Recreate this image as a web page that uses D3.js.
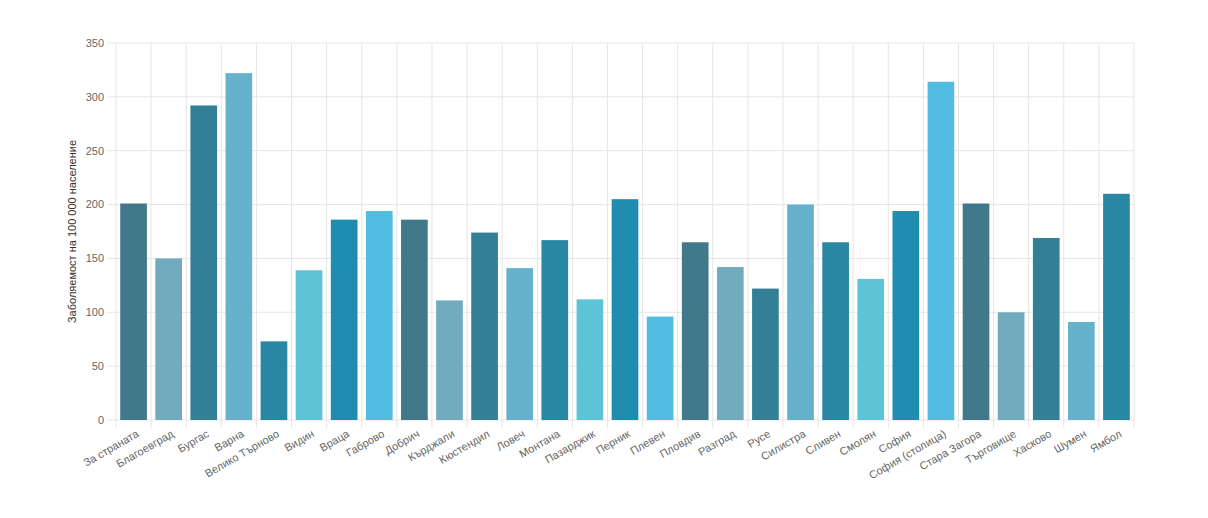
<!doctype html>
<html lang="bg">
<head>
  <meta charset="utf-8">
  <title>Заболяемост</title>
  <script src="https://cdnjs.cloudflare.com/ajax/libs/d3/7.8.5/d3.min.js"></script>
</head>
<body style="margin:0;background:#fff">
<script>
  const categories = ["За страната","Благоевград","Бургас","Варна","Велико Търново","Видин","Враца","Габрово","Добрич","Кърджали","Кюстендил","Ловеч","Монтана","Пазарджик","Перник","Плевен","Пловдив","Разград","Русе","Силистра","Сливен","Смолян","София","София (столица)","Стара Загора","Търговище","Хасково","Шумен","Ямбол"];
  const values = [201,150,292,322,73,139,186,194,186,111,174,141,167,112,205,96,165,142,122,200,165,131,194,314,201,100,169,91,210];
  const yTicks = [0,50,100,150,200,250,300,350];
  const palette = ["#41788a","#72abbd","#327f96","#66b2cc","#2a87a3","#5ec3d6","#1f8cb0","#52bde0"];

  const W = 1208, H = 518, m = {left:116, right:74, top:43, bottom:98};
  const svg = d3.select("body").append("svg").attr("width", W).attr("height", H)
    .style("font-family", "Arial, 'Liberation Sans', sans-serif");

  const x = d3.scaleBand().domain(categories).range([m.left, W - m.right]).paddingInner(0.24).paddingOuter(0.12);
  const y = d3.scaleLinear().domain([0, 350]).range([H - m.bottom, m.top]);
  const step = (W - m.left - m.right) / categories.length;

  const grid = svg.append("g").attr("stroke", "#e6e6e6");
  yTicks.forEach(t => grid.append("line").attr("x1", m.left - 8).attr("x2", W - m.right).attr("y1", y(t)).attr("y2", y(t)));
  d3.range(categories.length + 1).forEach(i => grid.append("line")
    .attr("x1", m.left + i * step).attr("x2", m.left + i * step).attr("y1", m.top).attr("y2", y(0) + 8));

  svg.append("g").selectAll("rect").data(values).join("rect")
    .attr("x", (d, i) => x(categories[i])).attr("width", x.bandwidth())
    .attr("y", d => y(d)).attr("height", d => y(0) - y(d))
    .attr("fill", (d, i) => palette[i % palette.length]);

  svg.append("g").selectAll("text").data(yTicks).join("text")
    .attr("x", m.left - 12).attr("y", d => y(d)).attr("dy", "0.35em")
    .attr("text-anchor", "end").attr("font-size", 11).attr("fill", "#666").text(d => d);

  svg.append("g").selectAll("text").data(categories).join("text")
    .attr("transform", d => `translate(${x(d) + x.bandwidth() / 2 + 6},${y(0) + 16}) rotate(-30)`)
    .attr("text-anchor", "end").attr("font-size", 11).attr("fill", "#666").text(d => d);

  svg.append("text").attr("transform", `translate(76,${(m.top + y(0)) / 2}) rotate(-90)`)
    .attr("text-anchor", "middle").attr("font-size", 11).attr("fill", "#333")
    .text("Заболяемост на 100 000 население");
</script>
</body>
</html>
